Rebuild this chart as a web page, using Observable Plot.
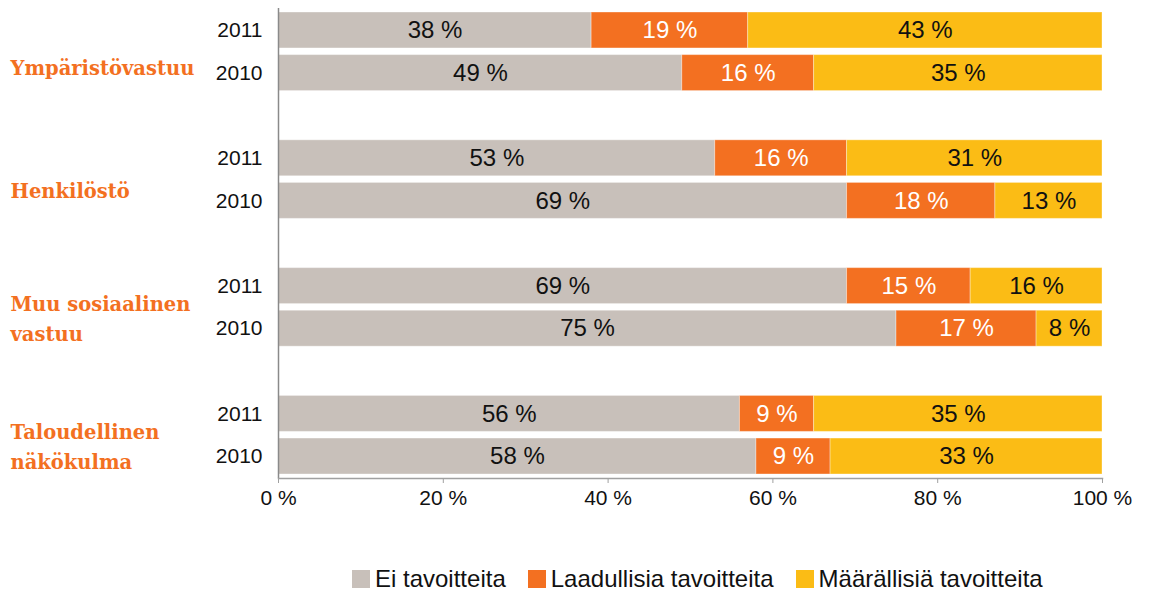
<!DOCTYPE html>
<html><head><meta charset="utf-8">
<script src="https://cdn.jsdelivr.net/npm/d3@7"></script>
<script src="https://cdn.jsdelivr.net/npm/@observablehq/plot@0.6"></script>
<style>
body{margin:0;background:#fff;font-family:"Liberation Sans",Arial,sans-serif;overflow:hidden;}
#legend{display:flex;gap:22px;padding-left:352px;margin-top:26px;font-size:24px;line-height:26px;color:#111;}
.item{display:flex;align-items:center;gap:5px;}
.sw{width:18px;height:18px;display:inline-block;}
</style></head><body><div id="chart"></div><div id="legend"></div>
<script>
const categories = ["Ympäristövastuu", "Henkilöstö", "Muu sosiaalinen vastuu", "Taloudellinen näkökulma"];
const categoryLabels = ["Ympäristövastuu", "Henkilöstö", "Muu sosiaalinen\nvastuu", "Taloudellinen\nnäkökulma"];
const years = ["2011", "2010"];
const types = ["Ei tavoitteita", "Laadullisia tavoitteita", "Määrällisiä tavoitteita"];
// values in order: Ymp 2011, Ymp 2010, Henk 2011, Henk 2010, Muu 2011, Muu 2010, Tal 2011, Tal 2010
const eiValues = [38, 49, 53, 69, 69, 75, 56, 58];
const laadullisiaValues = [19, 16, 16, 18, 15, 17, 9, 9];
const maarallisiaValues = [43, 35, 31, 13, 16, 8, 35, 33];
const xTicks = [0, 20, 40, 60, 80, 100];
const colors = ["#c8c0ba", "#f37021", "#fbbc15"];

const series = [eiValues, laadullisiaValues, maarallisiaValues];
const rows = [];
categories.forEach((c, i) => years.forEach((y, j) => {
  const k = i * years.length + j;
  const key = c + "|" + y;
  series.forEach((arr, t) => rows.push({key, category: c, year: y, type: types[t], value: arr[k]}));
}));
const yDomain = [];
categories.forEach((c, i) => {
  if (i > 0) yDomain.push("gap" + i);
  years.forEach(y => yDomain.push(c + "|" + y));
});
const yearKeys = yDomain.filter(d => d.includes("|"));
const labelRows = categories.map((c, i) => ({key: c + "|" + years[1], label: categoryLabels[i]}));

const labelStyle = {y: "key", text: "label", frameAnchor: "left", textAnchor: "start", dx: -268, fill: "#f37021", fontFamily: "'DejaVu Serif', serif", fontWeight: "bold", fontSize: 19.5, lineHeight: 1.5};

const chart = Plot.plot({
  width: 1154,
  height: 540,
  marginLeft: 278,
  marginRight: 52,
  marginTop: 8,
  marginBottom: 62,
  style: {fontFamily: "'Liberation Sans', Arial, sans-serif", fontSize: "21px", color: "#111", background: "#fff"},
  x: {domain: [0, 100]},
  y: {type: "band", domain: yDomain, paddingInner: 0.156, paddingOuter: 0.094, round: false},
  color: {domain: types, range: colors},
  marks: [
    Plot.barX(rows, {x: "value", y: "key", fill: "type", stroke: "#fff", strokeOpacity: 0.35, strokeWidth: 1}),
    Plot.text(rows, Plot.stackX({x: "value", y: "key", text: d => d.type === types[1] ? null : d.value + " %", fill: "#111", fontSize: 24})),
    Plot.text(rows, Plot.stackX({x: "value", y: "key", text: d => d.type === types[1] ? d.value + " %" : null, fill: "#fff", fontSize: 24})),
    Plot.ruleX([0], {stroke: "#8a8a8a", strokeWidth: 1.5}),
    Plot.frame({anchor: "bottom", stroke: "#a0a0a0", strokeWidth: 1.5}),
    Plot.axisX({ticks: xTicks, tickFormat: d => d + " %", tickSize: 5, tickPadding: 7, fontSize: 21, stroke: "#a0a0a0", label: null}),
    Plot.axisY({ticks: yearKeys, tickFormat: d => d.split("|")[1], tickSize: 0, tickPadding: 16, fontSize: 21, label: null}),
    Plot.text(labelRows.slice(0, 1), {...labelStyle, dy: -7}),
    Plot.text(labelRows.slice(1), {...labelStyle, dy: -12})
  ]
});
document.getElementById("chart").appendChild(chart);

const legend = document.getElementById("legend");
types.forEach((t, i) => {
  const item = document.createElement("div");
  item.className = "item";
  const sw = document.createElement("span");
  sw.className = "sw";
  sw.style.background = colors[i];
  const lab = document.createElement("span");
  lab.textContent = t;
  item.appendChild(sw);
  item.appendChild(lab);
  legend.appendChild(item);
});
</script>
</body></html>
